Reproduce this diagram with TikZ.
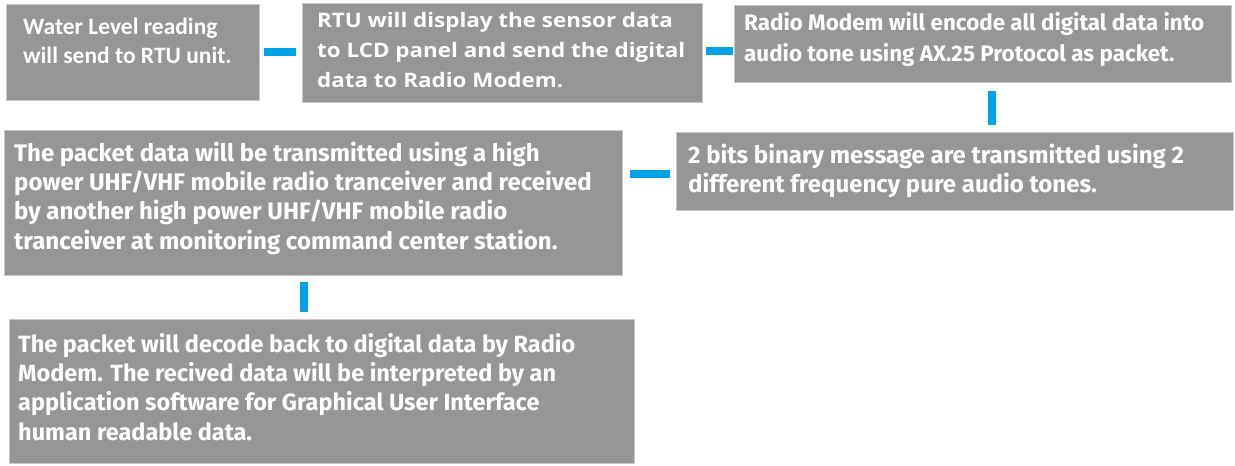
\documentclass[tikz,border=0pt]{standalone}
\usepackage{fontspec}
\setmainfont{Carlito}
\newfontfamily\wideFont[FakeStretch=1.12]{Open Sans}
\newfontfamily\condfont{Fira Sans}
\usetikzlibrary{calc}
\definecolor{boxgray}{RGB}{150,150,150}
\definecolor{boxedge}{RGB}{200,200,200}
\definecolor{linkblue}{RGB}{0,162,232}
% lines of a box text, baseline on the first line
\newcommand{\boxlines}[1]{\begin{tabular}[t]{@{}l@{}}#1\end{tabular}}
\tikzset{
  stepbox/.style={draw=boxedge, line width=1pt, fill=boxgray, inner sep=0pt, anchor=north west},
  boxtext/.style={text=white, anchor=base west, inner sep=0pt},
  condtext/.style={boxtext, font=\condfont\fontsize{24}{29.4}\selectfont\bfseries},
  link/.style={draw=linkblue, line width=8pt},
}
\begin{document}
\begin{tikzpicture}[x=1pt, y=-1pt]
  \fill[white] (0,0) rectangle (1235,466);
  \useasboundingbox (0,0) rectangle (1235,466);

  % process boxes
  \node[stepbox, minimum width=253, minimum height=96]  (b1) at (6,4)   {};
  \node[stepbox, minimum width=400, minimum height=99]  (b2) at (302,3) {};
  \node[stepbox, minimum width=497, minimum height=77]  (b3) at (734,5) {};
  \node[stepbox, minimum width=557, minimum height=78]  (b4) at (676,132) {};
  \node[stepbox, minimum width=618, minimum height=145] (b5) at (4,130) {};
  \node[stepbox, minimum width=625, minimum height=144] (b6) at (9,319) {};

  % box texts
  \node[boxtext, font=\fontsize{23.5}{29.5}\selectfont\bfseries] (t1)
    at ([shift={(17,30)}]b1.north west)
    {\boxlines{Water Level reading\\will send to RTU unit.}};
  \node[boxtext, font=\wideFont\fontsize{20}{30}\selectfont\bfseries] (t2)
    at ([shift={(15,24.7)}]b2.north west)
    {\boxlines{RTU will display the sensor data\\to LCD panel and send the digital\\data to Radio Modem.}};
  \node[condtext, font=\condfont\fontsize{22.4}{31}\selectfont\bfseries] (t3)
    at ([shift={(10,25)}]b3.north west)
    {\boxlines{Radio Modem will encode all digital data into\\audio tone using AX.25 Protocol as packet.}};
  \node[condtext] (t4) at ([shift={(12,31)}]b4.north west)
    {\boxlines{2 bits binary message are transmitted using 2\\different frequency pure audio tones.}};
  \node[condtext] (t5) at ([shift={(10,31)}]b5.north west)
    {\boxlines{The packet data will be transmitted using a high\\power UHF/VHF mobile radio tranceiver and received\\by another high power UHF/VHF mobile radio\\tranceiver at monitoring command center station.}};
  \node[condtext, font=\condfont\fontsize{23.5}{29.4}\selectfont\bfseries] (t6)
    at ([shift={(9,33)}]b6.north west)
    {\boxlines{The packet will decode back to digital data by Radio\\Modem. The recived data will be interpreted by an\\application software for Graphical User Interface\\human readable data.}};

  % connectors
  \draw[link, shorten <=4pt, shorten >=6pt] ($(b1.east)+(0,-1)$) -- ($(b2.west)+(0,-1.5)$);
  \draw[link, shorten <=3pt, shorten >=1pt] ($(b2.east)+(0,-2.5)$) -- ($(b3.west)+(0,6.5)$);
  \draw[link, shorten <=8pt, shorten >=7pt] ($(b3.south)+(8.5,0)$) -- ($(b4.north)+(36.5,0)$);
  \draw[link, shorten <=6pt, shorten >=7pt] ($(b4.west)+(0,2)$) -- ($(b5.east)+(0,-29.5)$);
  \draw[link, shorten <=6pt, shorten >=7pt] ($(b5.south)+(-9.5,0)$) -- ($(b6.north)+(-18,0)$);
\end{tikzpicture}
\end{document}
